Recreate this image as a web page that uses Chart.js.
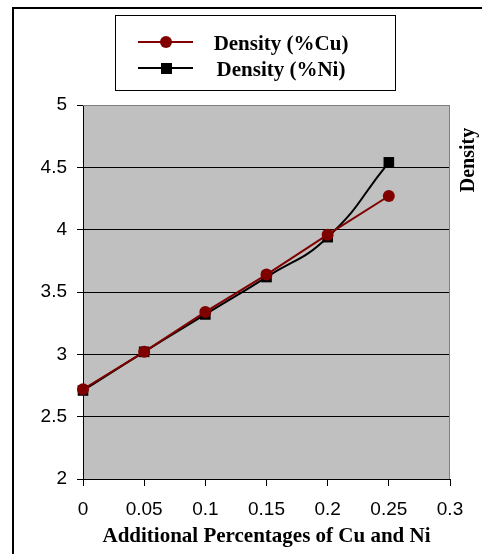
<!DOCTYPE html>
<html>
<head>
<meta charset="utf-8">
<script src="https://cdn.jsdelivr.net/npm/chart.js@4"></script>
<style>
  html, body { margin: 0; padding: 0; background: #fff; }
  #wrap { width: 482px; height: 554px; position: relative; }
</style>
</head>
<body>
<div id="wrap"><canvas id="chart"></canvas></div>
<script>
// values
const xValues = [0, 0.05, 0.1, 0.15, 0.2, 0.25];
const densityCu = [2.72, 3.02, 3.34, 3.64, 3.96, 4.27];
const densityNi = [2.71, 3.02, 3.32, 3.62, 3.94, 4.54];
const xTicks = [0, 0.05, 0.1, 0.15, 0.2, 0.25, 0.3];
const yTicks = [2, 2.5, 3, 3.5, 4, 4.5, 5];
const seriesNames = ['Density (%Cu)', 'Density (%Ni)'];

const CU_COLOR = '#800000';
const NI_COLOR = '#000000';
const SERIF = '"Liberation Serif", "Times New Roman", serif';
const SANS = '"Liberation Sans", Arial, sans-serif';

const toPoints = (ys) => ys.map((y, i) => ({ x: xValues[i], y: y }));

// grey plot background, frame, legend box and right-hand "Density" label
const decorations = {
  id: 'decorations',
  beforeDatasetsDraw(chart) {
    const { ctx, chartArea: a } = chart;
    ctx.save();
    ctx.strokeStyle = '#808080';
    ctx.lineWidth = 1;
    ctx.beginPath();
    ctx.moveTo(a.left, a.top + 0.5);
    ctx.lineTo(a.right - 0.5, a.top + 0.5);
    ctx.lineTo(a.right - 0.5, a.bottom);
    ctx.stroke();
    ctx.restore();
  },
  beforeDraw(chart) {
    const { ctx, chartArea: a } = chart;
    ctx.save();
    ctx.fillStyle = '#fff';
    ctx.fillRect(0, 0, chart.width, chart.height);
    ctx.fillStyle = '#c0c0c0';
    ctx.fillRect(a.left, a.top, a.right - a.left, a.bottom - a.top);
    ctx.restore();
  },
  afterDraw(chart) {
    const { ctx } = chart;
    ctx.save();

    // outer frame (cropped on right and bottom)
    ctx.strokeStyle = '#000';
    ctx.lineWidth = 2;
    ctx.beginPath();
    ctx.moveTo(13, chart.height);
    ctx.lineTo(13, 8);
    ctx.lineTo(chart.width, 8);
    ctx.stroke();

    // legend box
    ctx.fillStyle = '#fff';
    ctx.fillRect(115, 15, 280, 75);
    ctx.lineWidth = 1;
    ctx.strokeRect(115.5, 15.5, 280, 75);

    const rows = [
      { y: 42, base: 50, color: CU_COLOR, shape: 'circle' },
      { y: 68, base: 76, color: NI_COLOR, shape: 'rect' }
    ];
    rows.forEach((r, i) => {
      ctx.strokeStyle = r.color;
      ctx.lineWidth = 2;
      ctx.beginPath();
      ctx.moveTo(138, r.y);
      ctx.lineTo(193, r.y);
      ctx.stroke();
      ctx.fillStyle = r.color;
      if (r.shape === 'circle') {
        ctx.beginPath();
        ctx.arc(166, r.y, 6, 0, Math.PI * 2);
        ctx.fill();
      } else {
        ctx.fillRect(161, r.y - 5, 11, 11);
      }
      ctx.fillStyle = '#000';
      ctx.font = 'bold 21px ' + SERIF;
      ctx.textAlign = 'center';
      ctx.textBaseline = 'alphabetic';
      ctx.fillText(seriesNames[i], 281, r.base);
    });

    // y axis title on the right
    ctx.translate(469, 160);
    ctx.rotate(-Math.PI / 2);
    ctx.font = 'bold 20px ' + SERIF;
    ctx.textAlign = 'center';
    ctx.textBaseline = 'middle';
    ctx.fillStyle = '#000';
    ctx.fillText('Density', 0, 0);
    ctx.restore();
  }
};

new Chart(document.getElementById('chart'), {
  type: 'line',
  data: {
    datasets: [
      {
        label: seriesNames[0],
        data: toPoints(densityCu),
        borderColor: CU_COLOR,
        backgroundColor: CU_COLOR,
        borderWidth: 2,
        tension: 0,
        clip: false,
        pointStyle: 'circle',
        pointRadius: 6,
        pointBorderWidth: 0,
        pointBackgroundColor: CU_COLOR
      },
      {
        label: seriesNames[1],
        data: toPoints(densityNi),
        borderColor: NI_COLOR,
        backgroundColor: NI_COLOR,
        borderWidth: 2,
        tension: 0.5,
        clip: false,
        pointStyle: 'rect',
        pointRadius: 7.5,
        pointBorderWidth: 0,
        pointBackgroundColor: NI_COLOR
      }
    ]
  },
  options: {
    responsive: true,
    maintainAspectRatio: false,
    animation: false,
    layout: {
      padding: { top: 105, right: 32, left: 0, bottom: 0 }
    },
    plugins: {
      legend: { display: false },
      tooltip: { enabled: false }
    },
    scales: {
      x: {
        type: 'linear',
        min: 0,
        max: 0.3,
        afterFit: (scale) => { scale.height = 75; },
        afterBuildTicks: (scale) => { scale.ticks = xTicks.map(v => ({ value: v })); },
        grid: {
          drawOnChartArea: false,
          drawTicks: true,
          tickLength: 7,
          tickColor: '#000'
        },
        border: { color: '#000', width: 1 },
        ticks: {
          color: '#000',
          padding: 12,
          maxRotation: 0,
          font: { family: SANS, size: 19 },
          callback: (v) => String(v)
        },
        title: {
          display: true,
          text: 'Additional Percentages of Cu and Ni',
          color: '#000',
          font: { family: SERIF, size: 21, weight: 'bold' },
          padding: { top: 0, bottom: 5 }
        }
      },
      y: {
        type: 'linear',
        min: 2,
        max: 5,
        afterFit: (scale) => { scale.width = 83; },
        afterBuildTicks: (scale) => { scale.ticks = yTicks.map(v => ({ value: v })); },
        grid: {
          color: (c) => (c.tick && c.tick.value === 5 ? '#808080' : '#000'),
          lineWidth: 1,
          drawTicks: true,
          tickLength: 6,
          tickColor: '#000'
        },
        border: { color: '#000', width: 1 },
        ticks: {
          color: '#000',
          padding: 10,
          font: { family: SANS, size: 19 },
          callback: (v) => String(v)
        }
      }
    }
  },
  plugins: [decorations]
});
</script>
</body>
</html>
